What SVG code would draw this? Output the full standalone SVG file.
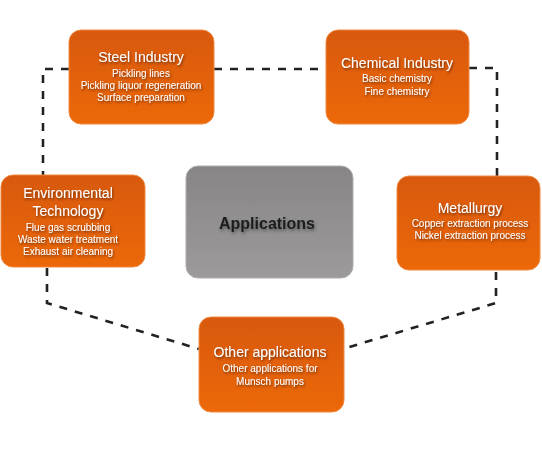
<svg xmlns="http://www.w3.org/2000/svg" width="542" height="449" viewBox="0 0 542 449">
<style>
.box{fill:url(#og);stroke:#f08a40;stroke-width:1}
.t{font-family:"Liberation Sans",Arial,sans-serif;fill:#fff;text-anchor:middle;filter:url(#ts)}
.h{font-size:14px}
.s{font-size:10px}
.c{fill:none;stroke:#222;stroke-width:2.6;stroke-dasharray:8 8}
</style>
<defs>
<linearGradient id="og" x1="0" y1="0" x2="0" y2="1">
<stop offset="0" stop-color="#d8590e"/>
<stop offset="1" stop-color="#ec6808"/>
</linearGradient>
<linearGradient id="gg" x1="0" y1="0" x2="0" y2="1">
<stop offset="0" stop-color="#878585"/>
<stop offset="1" stop-color="#9c9a9b"/>
</linearGradient>
<filter id="ts" x="-20%" y="-50%" width="140%" height="200%">
<feDropShadow dx="1" dy="1.5" stdDeviation="1.2" flood-color="#5a2000" flood-opacity="0.8"/>
</filter>
<filter id="ds" x="-20%" y="-50%" width="140%" height="200%">
<feDropShadow dx="1" dy="2" stdDeviation="1.5" flood-color="#333" flood-opacity="0.6"/>
</filter>
</defs>
<g id="connectors">
<path class="c" d="M69 69 H43 V175"/>
<path class="c" d="M214 69 H326"/>
<path class="c" d="M469 68 H497 V176"/>
<path class="c" d="M47 268 V303 L199 349"/>
<path class="c" d="M496 272 V303 L346 348"/>
</g>
<g id="steel">
<rect class="box" x="69" y="30" width="145" height="94" rx="12"/>
<text class="t h" x="141" y="62">Steel Industry</text>
<text class="t s" x="141" y="77">Pickling lines</text>
<text class="t s" x="141" y="89">Pickling liquor regeneration</text>
<text class="t s" x="141" y="101">Surface preparation</text>
</g>
<g id="chemical">
<rect class="box" x="326" y="30" width="143" height="94" rx="12"/>
<text class="t h" x="397" y="68">Chemical Industry</text>
<text class="t s" x="397" y="82">Basic chemistry</text>
<text class="t s" x="397" y="95">Fine chemistry</text>
</g>
<g id="environmental">
<rect class="box" x="1" y="175" width="144" height="92" rx="12"/>
<text class="t h" x="68" y="198">Environmental</text>
<text class="t h" x="68" y="216">Technology</text>
<text class="t s" x="68" y="231">Flue gas scrubbing</text>
<text class="t s" x="68" y="243">Waste water treatment</text>
<text class="t s" x="68" y="255">Exhaust air cleaning</text>
</g>
<g id="metallurgy">
<rect class="box" x="397" y="176" width="143" height="94" rx="12"/>
<text class="t h" x="470" y="213">Metallurgy</text>
<text class="t s" x="470" y="227">Copper extraction process</text>
<text class="t s" x="470" y="239">Nickel extraction process</text>
</g>
<g id="other">
<rect class="box" x="199" y="317" width="145" height="95" rx="12"/>
<text class="t h" x="270" y="357">Other applications</text>
<text class="t s" x="270" y="372">Other applications for</text>
<text class="t s" x="270" y="385">Munsch pumps</text>
</g>
<g id="applications">
<rect x="186" y="166" width="167" height="112" rx="12" fill="url(#gg)" stroke="#b0aeae" stroke-width="1"/>
<text x="267" y="229" font-family="Liberation Sans,Arial,sans-serif" font-size="16" font-weight="bold" fill="#1e1e1e" text-anchor="middle" filter="url(#ds)">Applications</text>
</g>
</svg>
